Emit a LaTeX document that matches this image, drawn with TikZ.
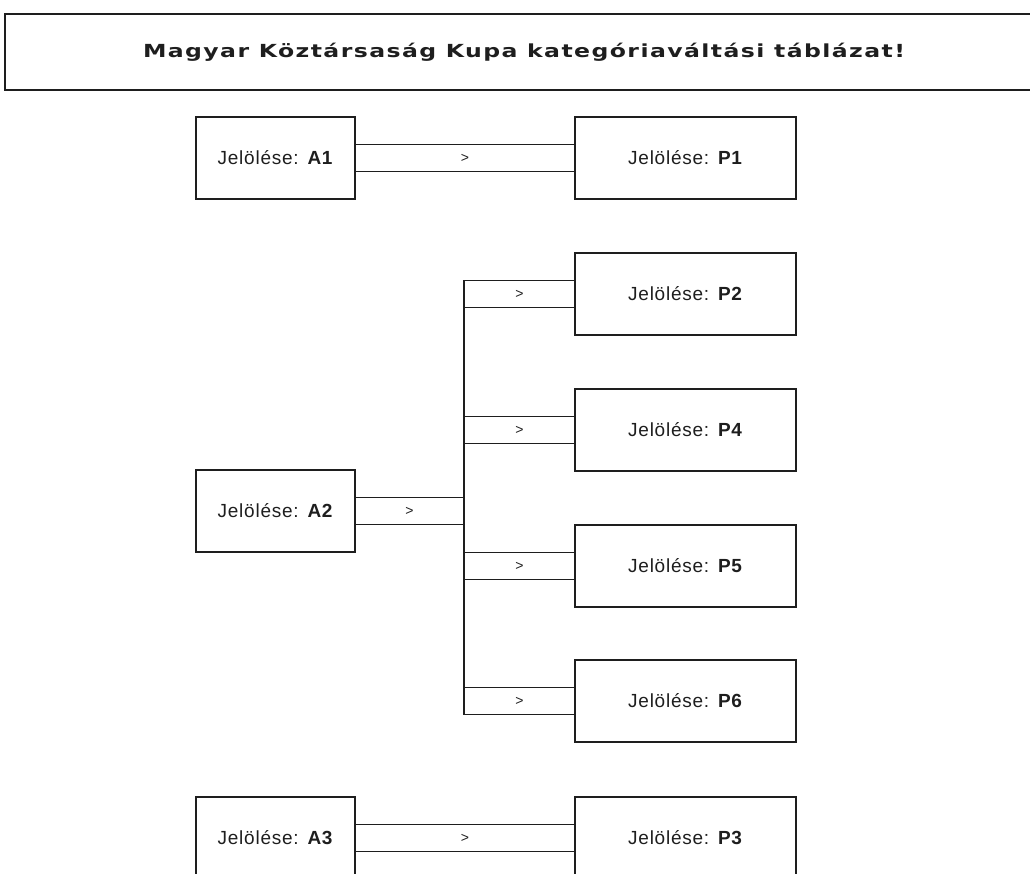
\documentclass[tikz,border=0pt]{standalone}
\usepackage{fontspec}
\usetikzlibrary{calc}
\newfontfamily\lblfont[LetterSpace=4]{Liberation Sans}
\newfontfamily\gtfont{Liberation Sans}
\newfontfamily\ttlfont[LetterSpace=6]{DejaVu Sans}
\newsavebox\ttlbox
\newlength\ttllen
\definecolor{ink}{RGB}{30,30,30}
\begin{document}
\begin{tikzpicture}[x=1pt,y=-1pt,
  abox/.style={draw=ink,line width=1.9pt,outer sep=0pt,minimum width=159pt,minimum height=82pt,inner sep=0pt,text height=13.6pt,text depth=0pt,font=\lblfont\fontsize{19}{22}\selectfont,text=ink},
  pbox/.style={abox,minimum width=221pt},
  conn/.style={draw=ink,line width=1.8pt,line cap=rect},
  gt/.style={font=\gtfont\fontsize{14}{16}\selectfont,inner sep=0pt,text=ink}]
\useasboundingbox (0,0) rectangle (1030,874);
\clip (0,0) rectangle (1030,874);
% title frame
\draw[draw=ink,line width=1.8pt] (1040,14) -- (5,14) -- (5,90) -- (1040,90);
\node[anchor=base,inner sep=0pt,text=ink] (title) at (524,58) {%
  \sbox\ttlbox{\ttlfont\bfseries\fontsize{18}{21}\selectfont Magyar Köztársaság Kupa kategóriaváltási táblázat!}%
  \setlength\ttllen{\wd\ttlbox}%
  \pgfmathsetmacro\tsx{762/\ttllen}%
  \scalebox{\tsx}[1]{\usebox\ttlbox}};
% boxes
\node[abox] (A1) at (275.5,158) {Jelölése: \textbf{A1}};
\node[pbox] (P1) at (685.5,158) {Jelölése: \textbf{P1}};
\node[pbox] (P2) at (685.5,294) {Jelölése: \textbf{P2}};
\node[pbox] (P4) at (685.5,430) {Jelölése: \textbf{P4}};
\node[abox] (A2) at (275.5,511) {Jelölése: \textbf{A2}};
\node[pbox] (P5) at (685.5,566) {Jelölése: \textbf{P5}};
\node[pbox] (P6) at (685.5,701) {Jelölése: \textbf{P6}};
\node[abox] (A3) at (275.5,838) {Jelölése: \textbf{A3}};
\node[pbox] (P3) at (685.5,838) {Jelölése: \textbf{P3}};
\coordinate (bus) at (464,0);
% direct connectors
\foreach \a/\p in {A1/P1,A3/P3}{
  \draw[conn] ([yshift=13.5pt]\a.east) -- ([yshift=13.5pt]\p.west);
  \draw[conn] ([yshift=-13.5pt]\a.east) -- ([yshift=-13.5pt]\p.west);
  \path (\a.east) -- node[gt]{>} (\p.west);
}
% A2 to bus
\draw[conn] ([yshift=13.5pt]A2.east) -- ($(A2.east -| bus)+(0,-13.5)$);
\draw[conn] ([yshift=-13.5pt]A2.east) -- ($(A2.east -| bus)+(0,13.5)$);
\path (A2.east) -- node[gt]{>} (A2.east -| bus);
% bus
\draw[conn] ($(P2.west -| bus)+(0,-13.5)$) -- ($(P6.west -| bus)+(0,13.5)$);
% branches
\foreach \p in {P2,P4,P5,P6}{
  \draw[conn] ($(\p.west -| bus)+(0,-13.5)$) -- ([yshift=13.5pt]\p.west);
  \draw[conn] ($(\p.west -| bus)+(0,13.5)$) -- ([yshift=-13.5pt]\p.west);
  \path (\p.west -| bus) -- node[gt]{>} (\p.west);
}
\end{tikzpicture}
\end{document}
